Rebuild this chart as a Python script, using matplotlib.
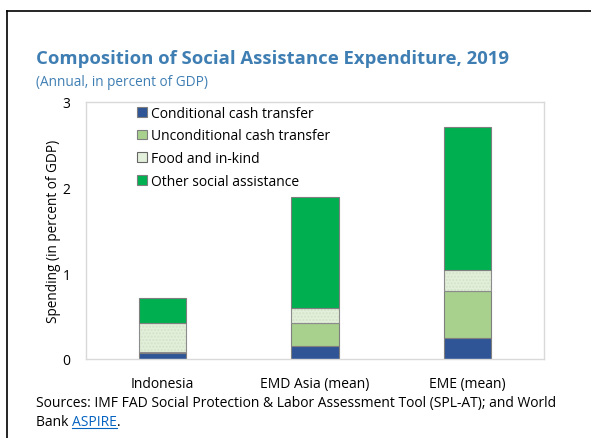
import numpy as np
import matplotlib.pyplot as plt
from matplotlib.lines import Line2D

plt.rcParams['font.family'] = ['Open Sans', 'DejaVu Sans']

categories = ['Indonesia', 'EMD Asia (mean)', 'EME (mean)']
series = ['Conditional cash transfer', 'Unconditional cash transfer',
          'Food and in-kind', 'Other social assistance']
cct = [0.07, 0.15, 0.25]
uct = [0.01, 0.27, 0.54]
food = [0.34, 0.17, 0.245]
other = [0.29, 1.30, 1.675]
colors = ['#2F5597', '#A9D18E', '#E2EFDA', '#00B050']

fig = plt.figure(figsize=(5.91, 4.39), dpi=100)
ax = fig.add_axes([86 / 591, 1 - 360 / 439, 458 / 591, 257 / 439])

x = np.arange(len(categories))
width = 0.31
bottom = np.zeros(len(categories))
for vals, name, col in zip([cct, uct, food, other], series, colors):
    vals = np.array(vals)
    if name == 'Food and in-kind':
        # light dotted fill, then the outline on top
        ax.bar(x, vals, width, bottom=bottom, color=col, hatch='.....',
               edgecolor='#D3E2C8', linewidth=0)
        ax.bar(x, vals, width, bottom=bottom, fill=False,
               edgecolor='#8C8C8C', linewidth=0.8)
        ax.bar([np.nan], [0], width, color=col, edgecolor='#666666',
               linewidth=0.8, label=name)
    else:
        ax.bar(x, vals, width, bottom=bottom, color=col,
               edgecolor='#7F7F7F', linewidth=0.8, label=name)
    bottom += vals

ax.set_xlim(-0.5, 2.5)
ax.set_ylim(0, 3)
ax.set_yticks([0, 1, 2, 3])
ax.set_xticks(x)
ax.set_xticklabels(categories, fontsize=10)
ax.tick_params(axis='both', length=0, labelsize=10, colors='black')
ax.tick_params(axis='y', pad=11)
ax.tick_params(axis='x', pad=12)
for s in ax.spines.values():
    s.set_color('#D9D9D9')
    s.set_linewidth(1)
ax.set_ylabel('Spending (in percent of GDP)', fontsize=9.8, labelpad=1)

leg = ax.legend(loc='upper left', bbox_to_anchor=(0.085, 1.035), frameon=False,
                fontsize=10, handlelength=0.7, handleheight=0.7,
                handletextpad=0.3, labelspacing=0.56)

fig.text(36 / 591, 1 - 59 / 439, 'Composition of Social Assistance Expenditure, 2019',
         fontsize=13.3, fontweight='bold', color='#3F7EB3', va='center')
fig.text(36 / 591, 1 - 82 / 439, '(Annual, in percent of GDP)',
         fontsize=9.8, color='#3F7EB3', va='center')

fig.text(36 / 591, 1 - 404 / 439,
         'Sources: IMF FAD Social Protection & Labor Assessment Tool (SPL-AT); and World',
         fontsize=10, va='center')
t1 = fig.text(36 / 591, 1 - 423 / 439, 'Bank ', fontsize=10, va='center')
fig.canvas.draw()
r = fig.canvas.get_renderer()
bb = t1.get_window_extent(r)
t2 = fig.text(bb.x1 / 591, 1 - 423 / 439, 'ASPIRE', fontsize=10,
              va='center', color='#0563C1')
bb2 = t2.get_window_extent(r)
fig.add_artist(Line2D([bb2.x0 / 591, bb2.x1 / 591],
                      [(bb2.y0 + 2) / 439, (bb2.y0 + 2) / 439],
                      color='#0563C1', linewidth=0.8))
fig.text(bb2.x1 / 591, 1 - 423 / 439, '.', fontsize=10, va='center')

# outer frame
fig.add_artist(Line2D([7 / 591, 7 / 591], [0, 1 - 12 / 439], color='black', linewidth=1.2))
fig.add_artist(Line2D([7 / 591, 1], [1 - 12 / 439, 1 - 12 / 439], color='black', linewidth=1.2))

fig.savefig('out.png', dpi=100)
